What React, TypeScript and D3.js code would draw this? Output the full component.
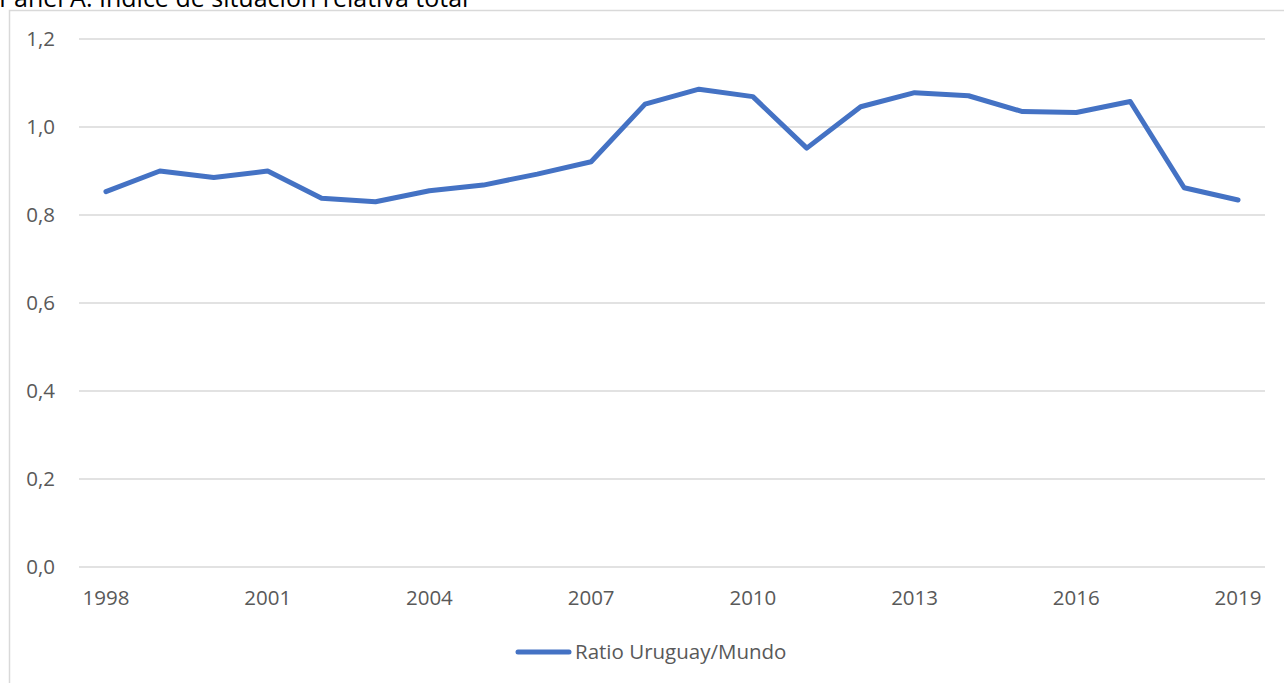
import React from "react";
import * as d3 from "d3";

const years = ["1998","1999","2000","2001","2002","2003","2004","2005","2006","2007","2008","2009","2010","2011","2012","2013","2014","2015","2016","2017","2018","2019"];
const ratio = [0.853,0.900,0.885,0.900,0.838,0.830,0.855,0.868,0.893,0.921,1.052,1.086,1.069,0.952,1.046,1.078,1.071,1.035,1.033,1.058,0.862,0.834];
const yTicks = [0, 0.2, 0.4, 0.6, 0.8, 1.0, 1.2];
const xLabelYears = ["1998","2001","2004","2007","2010","2013","2016","2019"];
const seriesName = "Ratio Uruguay/Mundo";
const title = "Panel A: Índice de situación relativa total";

export default function App() {
  const W = 1284, H = 683;
  const left = 79, right = 1265, top = 39, bottom = 567;
  const x = d3.scaleBand().domain(years).range([left, right]);
  const y = d3.scaleLinear().domain([0, 1.2]).range([bottom, top]);
  const line = d3.line<number>()
    .x((_, i) => (x(years[i]) as number) + x.bandwidth() / 2)
    .y(d => y(d));
  const font = "'Open Sans', Lato, sans-serif";
  const fs = 20.5;
  const fmt = (v: number) => v.toFixed(1).replace(".", ",");
  return (
    <svg width={W} height={H} style={{ position: "absolute", left: 0, top: 0, background: "#fff" }}>
      <text x={-1} y={7} fontFamily={font} fontSize={25} fill="#000">{title}</text>
      <rect x={9.5} y={10.5} width={1290} height={700} fill="none" stroke="#d9d9d9" strokeWidth={1.5} />
      {yTicks.map(t => (
        <g key={t}>
          <line x1={left} x2={right} y1={y(t)} y2={y(t)} stroke="#d9d9d9" strokeWidth={1.3} />
          <text x={55} y={y(t)} dy="0.35em" textAnchor="end" fontFamily={font} fontSize={fs} fill="#595959">{fmt(t)}</text>
        </g>
      ))}
      {xLabelYears.map(yr => (
        <text key={yr} x={(x(yr) as number) + x.bandwidth() / 2} y={598} dy="0.35em" textAnchor="middle" fontFamily={font} fontSize={fs} fill="#595959">{yr}</text>
      ))}
      <path d={line(ratio) || ""} fill="none" stroke="#4472C4" strokeWidth={5} strokeLinejoin="round" strokeLinecap="round" />
      <line x1={518} x2={569} y1={652} y2={652} stroke="#4472C4" strokeWidth={5} strokeLinecap="round" />
      <text x={575} y={652} dy="0.35em" fontFamily={font} fontSize={fs} fill="#595959">{seriesName}</text>
    </svg>
  );
}
